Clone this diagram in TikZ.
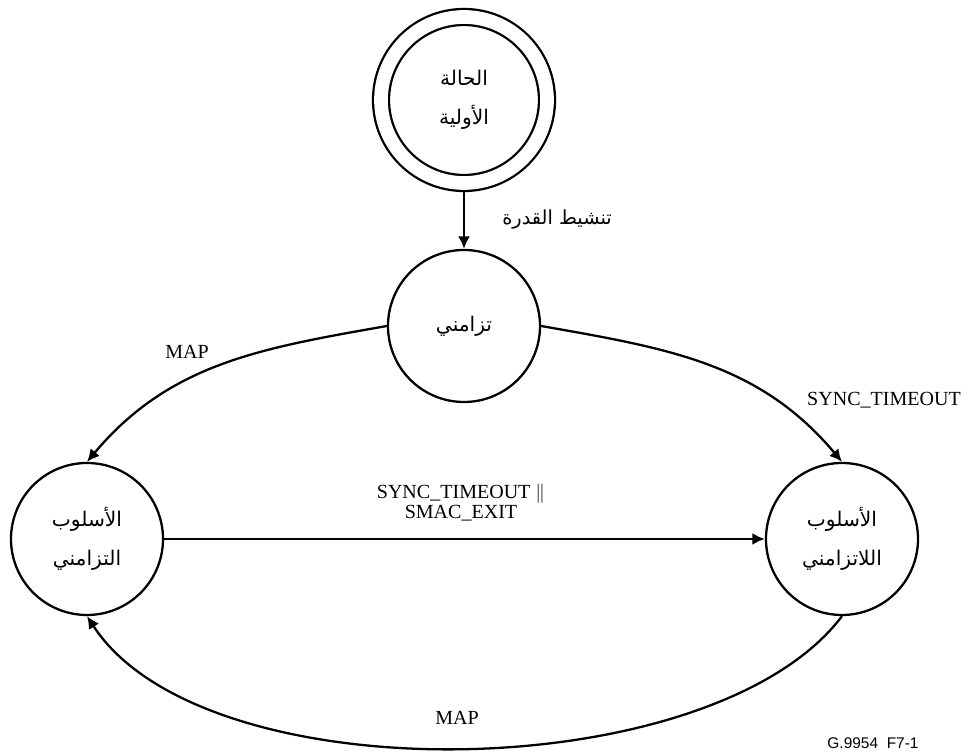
\documentclass[tikz,border=0pt]{standalone}
\usepackage{fontspec}
\setmainfont{Liberation Serif}
\newfontfamily\arabicfont[Script=Arabic]{DejaVu Sans}
\newfontfamily\figfont{Liberation Sans}
\TeXXeTstate=1
\usetikzlibrary{arrows.meta}
\newcommand{\artext}[1]{{\arabicfont\beginR #1\endR}}

\begin{document}
\begin{tikzpicture}[
    line width=1.3pt,
    state/.style={draw, circle, minimum size=3.04cm, inner sep=0pt, align=center,
      font=\fontsize{11.5}{22.5}\selectfont},
    trans/.style={-{Latex[length=0.25cm,width=0.24cm]}},
    lbl/.style={font=\fontsize{11.4}{13}\selectfont, inner sep=0pt}
  ]
  \useasboundingbox (0,0) rectangle (19.36,15.02);

  \node[state, minimum size=3.32cm, double, double distance=0.274cm, outer sep=0.16cm] (init)
    at (9.28,13.02) {\artext{الحالة}\\\artext{الأولية}};
  \node[state] (sync) at (9.28,8.5) {\artext{تزامني}};
  \node[state] (syncmode) at (1.74,4.24) {\artext{الأسلوب}\\\artext{التزامني}};
  \node[state] (asyncmode) at (16.84,4.24) {\artext{الأسلوب}\\\artext{اللاتزامني}};

  \draw[trans] (init) -- (sync);
  \draw[trans] (sync.west) to[out=190,in=50] (syncmode.north);
  \draw[trans] (sync.east) to[out=-10,in=130] (asyncmode.north);
  \draw[trans] (syncmode) -- (asyncmode);
  \draw[trans] (asyncmode.south) to[out=233,in=303,looseness=0.73] (syncmode.south);

  \node[lbl, font=\fontsize{11}{13}\selectfont] (powerlbl) at (11.14,10.62) {\artext{تنشيط القدرة}};
  \node[lbl] (maplbl) at (3.74,7.98) {MAP};
  \node[lbl] (timeoutlbl) at (17.68,7.02) {SYNC\_TIMEOUT};
  \node[lbl, align=center, font=\fontsize{11.4}{11.4}\selectfont] (exitlbl) at (9.22,4.96)
    {SYNC\_TIMEOUT $\|$\\SMAC\_EXIT};
  \node[lbl] (mapbacklbl) at (9.14,0.66) {MAP};
  \node[inner sep=0pt, font=\figfont\fontsize{8.8}{10}\selectfont] (figid) at (17.46,0.16)
    {G.9954\ \ F7-1};
\end{tikzpicture}
\end{document}
